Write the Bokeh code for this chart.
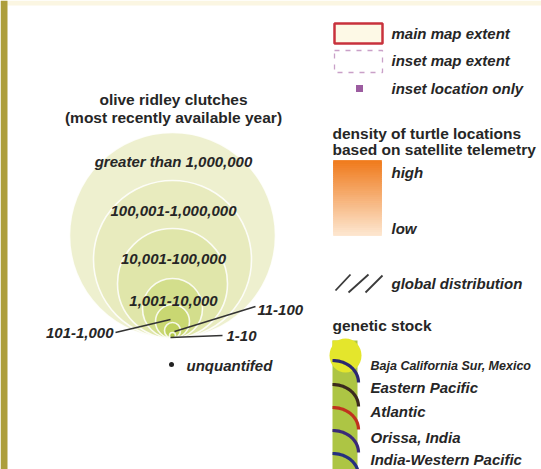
import numpy as np
from bokeh.plotting import figure
from bokeh.models import Range1d
from bokeh.core.properties import value
from bokeh.embed import file_html
from bokeh.resources import INLINE

# ---------------- data (legend contents) ----------------
title_lines = ["olive ridley clutches", "(most recently available year)"]
clutch_classes = ["greater than 1,000,000", "100,001-1,000,000", "10,001-100,000",
                  "1,001-10,000", "101-1,000", "11-100", "1-10"]
unquantified_label = "unquantifed"
extent_labels = ["main map extent", "inset map extent", "inset location only"]
density_title = ["density of turtle locations", "based on satellite telemetry"]
density_levels = ["high", "low"]
distribution_label = "global distribution"
stock_title = "genetic stock"
genetic_stocks = ["Baja California Sur, Mexico", "Eastern Pacific", "Atlantic",
                  "Orissa, India", "India-Western Pacific"]

# ---------------- styles / layout ----------------
W, H = 541, 469
FONT = value("Liberation Sans")
TXT = "#262626"
LBL = "15px"
TTL = "15.5px"
circle_radii = [103, 79, 55, 30, 17, 8, 3]
circle_colors = ["#eef0cf", "#e8ebbe", "#e0e6aa", "#d3de8c", "#c9d772", "#bfd15e", "#b3c94c"]
circle_cx, circle_bottom = 172, 338
stock_colors = ["#2b2870", "#3b2a1e", "#c0321e", "#3a2a78", "#25307f"]

p = figure(width=W, height=H, output_backend="svg", toolbar_location=None,
           x_range=Range1d(0, W), y_range=Range1d(H, 0),
           x_axis_location=None, y_axis_location=None, min_border=0,
           background_fill_color="white", border_fill_color="white")
p.outline_line_color = None
p.xgrid.visible = False
p.ygrid.visible = False

# frame decorations
p.quad(left=[0], right=[W], top=[0], bottom=[5], fill_color="#fbf6e2", line_color=None)
p.quad(left=[0], right=[7], top=[0], bottom=[H], fill_color="#ad9e3b", line_color=None)

# ---------------- left panel: clutch circles ----------------
for i, line in enumerate(title_lines):
    p.text(x=[173], y=[99 + 18 * i], text=[line], text_font=FONT, text_font_size=TTL,
           text_font_style="bold", text_color=TXT, text_align="center", text_baseline="middle")

for r, c in zip(circle_radii, circle_colors):
    p.circle(x=[circle_cx], y=[circle_bottom - r], radius=r, fill_color=c,
             line_color="white", line_width=1.6, line_alpha=0.85)

inner_y = [161, 210, 258, 300]
for lab, yy in zip(clutch_classes[:4], inner_y):
    p.text(x=[173], y=[yy], text=[lab], text_font=FONT, text_font_size=LBL,
           text_font_style="bold italic", text_color=TXT, text_align="center",
           text_baseline="middle")

# leader lines
p.segment(x0=[115, 255, 170], y0=[332, 306, 337], x1=[170, 174, 222], y1=[319, 331, 335],
          line_color="#333333", line_width=1.6)
p.text(x=[113], y=[332], text=[clutch_classes[4]], text_font=FONT, text_font_size=LBL,
       text_font_style="bold italic", text_color=TXT, text_align="right", text_baseline="middle")
p.text(x=[257], y=[309], text=[clutch_classes[5]], text_font=FONT, text_font_size=LBL,
       text_font_style="bold italic", text_color=TXT, text_align="left", text_baseline="middle")
p.text(x=[226], y=[335], text=[clutch_classes[6]], text_font=FONT, text_font_size=LBL,
       text_font_style="bold italic", text_color=TXT, text_align="left", text_baseline="middle")

p.scatter(x=[171], y=[364], size=5, marker="circle", fill_color="#222222", line_color=None)
p.text(x=[186], y=[365], text=[unquantified_label], text_font=FONT, text_font_size=LBL,
       text_font_style="bold italic", text_color=TXT, text_align="left", text_baseline="middle")
p.quad(left=[274], right=[306], top=[354], bottom=[376], fill_color="white", line_color=None)

# ---------------- right panel ----------------
p.rect(x=[358], y=[33], width=48, height=20, fill_color="#fdf9e6",
       line_color="#c8323c", line_width=2.5)
p.rect(x=[358], y=[61], width=48, height=22, fill_color=None,
       line_color="#c9a0c8", line_width=1.3, line_dash="5 6")
p.scatter(x=[359], y=[88], size=7, marker="square", fill_color="#9c5ca0", line_color=None)
for lab, yy in zip(extent_labels, [33, 60, 88]):
    p.text(x=[391], y=[yy], text=[lab], text_font=FONT, text_font_size=LBL,
           text_font_style="bold italic", text_color=TXT, text_align="left", text_baseline="middle")

for i, line in enumerate(density_title):
    p.text(x=[332], y=[133 + 16 * i], text=[line], text_font=FONT, text_font_size=TTL,
           text_font_style="bold", text_color=TXT, text_align="left", text_baseline="middle")

# gradient swatch built from thin overlapping slices
top_rgb = np.array([240, 124, 30])
bot_rgb = np.array([253, 228, 204])
n = 36
edges = np.linspace(160, 234, n + 1)
cols = []
for t in np.linspace(0, 1, n):
    c = (top_rgb * (1 - t) + bot_rgb * t).astype(int)
    cols.append("#%02x%02x%02x" % tuple(c))
p.quad(left=[333] * n, right=[381] * n, top=edges[:-1], bottom=edges[1:] + 1.0,
       fill_color=cols, line_color=cols, line_width=0.8)
p.text(x=[391, 391], y=[172, 228], text=density_levels, text_font=FONT, text_font_size=LBL,
       text_font_style="bold italic", text_color=TXT, text_align="left", text_baseline="middle")

# hatch symbol
p.segment(x0=[335, 348, 365], y0=[290, 292, 292], x1=[350, 368, 382], y1=[274, 274, 275],
          line_color="#3a3a3a", line_width=1.8)
p.text(x=[391], y=[283], text=[distribution_label], text_font=FONT, text_font_size=LBL,
       text_font_style="bold italic", text_color=TXT, text_align="left", text_baseline="middle")

p.text(x=[332], y=[325], text=[stock_title], text_font=FONT, text_font_size=TTL,
       text_font_style="bold", text_color=TXT, text_align="left", text_baseline="middle")

# genetic stock swatch
p.quad(left=[332], right=[357], top=[340], bottom=[H], fill_color="#adc544", line_color=None)
p.ellipse(x=[345], y=[355], width=32, height=34, fill_color="#e4e62c", line_color=None)
p.quad(left=[332], right=[345], top=[340], bottom=[360], fill_color="#e4e62c", line_color=None)
tt = np.linspace(0, np.pi / 2, 20)
arc_tops = [360, 384, 407, 430, 453]
xs = [list(332 + 26 * np.sin(tt)) for _ in arc_tops]
ys_arc = [list(y0 + 22 - 22 * np.cos(tt)) for y0 in arc_tops]
p.multi_line(xs=xs, ys=ys_arc, line_color=stock_colors, line_width=3.2)
stock_sizes = ["12.5px", LBL, LBL, LBL, LBL]
for lab, yy, fs in zip(genetic_stocks, [365, 387, 411, 437, 459], stock_sizes):
    p.text(x=[370], y=[yy], text=[lab], text_font=FONT, text_font_size=fs,
           text_font_style="bold italic", text_color=TXT, text_align="left",
           text_baseline="middle")

open("out.html", "w").write(file_html(p, INLINE))
